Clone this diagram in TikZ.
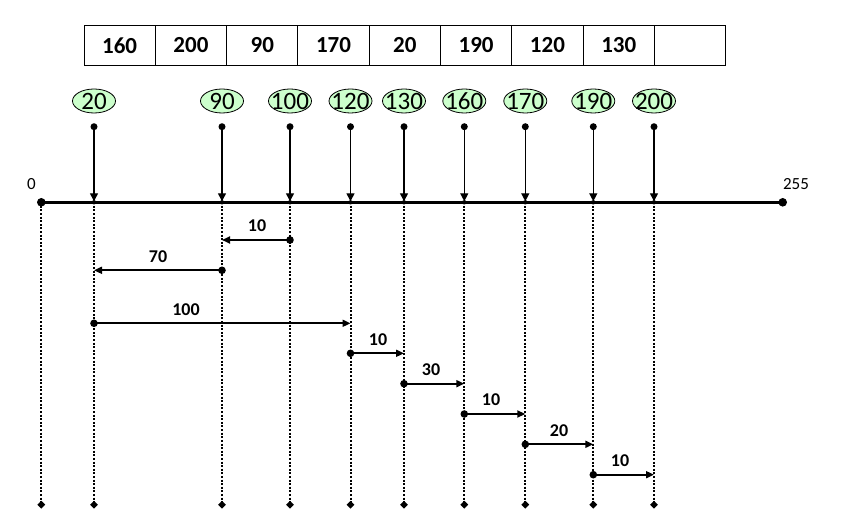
\documentclass[tikz,border=0pt]{standalone}
\usepackage{fontspec}
\setmainfont{Carlito}
\usetikzlibrary{arrows.meta,shapes.geometric}
\definecolor{ellgreen}{RGB}{204,255,204}
\tikzset{
  cell/.style={draw, line width=1pt, minimum width=71.3pt, minimum height=39.7pt, inner sep=0pt, font=\fontsize{23}{25}\selectfont\bfseries},
  ell/.style={draw, ellipse, line width=0.8pt, fill=ellgreen, minimum width=43pt, minimum height=24pt, inner sep=0pt},
  elltext/.style={inner sep=0pt, font=\fontsize{25}{27}\selectfont},
  downarrow/.style={line width=1.3pt, -{Triangle[length=8pt,width=8pt]}},
  axis/.style={line width=3pt},
  dotline/.style={line width=2pt, dash pattern=on 2pt off 1.6pt},
  harrow/.style={line width=1.8pt, -{Triangle[length=8pt,width=7pt]}},
  hlabel/.style={inner sep=0pt, font=\fontsize{18}{20}\selectfont\bfseries},
  endlabel/.style={inner sep=0pt, font=\fontsize{17}{19}\selectfont},
  diam/.style={diamond, fill=black, inner sep=0pt, minimum size=8pt},
}
\begin{document}
\begin{tikzpicture}[x=1pt,y=-1pt]
\useasboundingbox (0,0) rectangle (862,526);
% table
\foreach \v [count=\i] in {160,200,90,170,20,190,120,130,{}} {
  \node[cell] (c\i) at ({84+71.3*(\i-0.5)},45.3) {\v};
}
% values and positions
\foreach \v/\x in {20/94,90/222,100/290,120/350.5,130/404,160/464.3,170/525.3,190/593.3,200/654} {
  \node[ell] (e\v) at (\x,101) {};
  \node[elltext] (t\v) at (\x,101.5) {\v};
  \coordinate (s\v) at (\x,126.7);
  \coordinate (a\v) at (\x,202.3);
  \coordinate (b\v) at (\x,504.7);
}
\coordinate (a0) at (41.3,202.3);
\coordinate (b0) at (41.3,504.7);
\coordinate (a255) at (782.7,202.3);
% dotted verticals
\foreach \v in {0,20,90,100,120,130,160,170,190,200} {
  \draw[dotline] (a\v) -- (b\v);
  \node[diam] (d\v) at (b\v) {};
}
% axis
\draw[axis] (a0) -- (a255);
\fill (a0) circle (4.3pt);
\fill (a255) circle (4.3pt);
\node[endlabel] (l0) at (31.5,184) {0};
\node[endlabel] (l255) at (796,184) {255};
% down arrows
\foreach \v in {20,90,100,120,130,160,170,190,200} {
  \fill (s\v) circle (3.5pt);
  \draw[downarrow] (s\v) -- ([yshift=1pt]a\v);
  \fill (a\v) circle (2.2pt);
}
% horizontal arrows
\foreach \from/\to/\y/\lab/\lx [count=\k] in {100/90/240/10/257, 90/20/270.3/70/158, 20/120/323.3/100/186, 120/130/353.3/10/378, 130/160/383.7/30/431, 160/170/414/10/491, 170/190/444.3/20/559, 190/200/474.7/10/620} {
  \path (a\from) ++(0,\y-202.3) coordinate (p\k);
  \path (a\to) ++(0,\y-202.3) coordinate (q\k);
  \fill (p\k) circle (3.8pt);
  \draw[harrow] (p\k) -- (q\k);
  \node[hlabel] (h\k) at (\lx,\y-14) {\lab};
}
\end{tikzpicture}
\end{document}
